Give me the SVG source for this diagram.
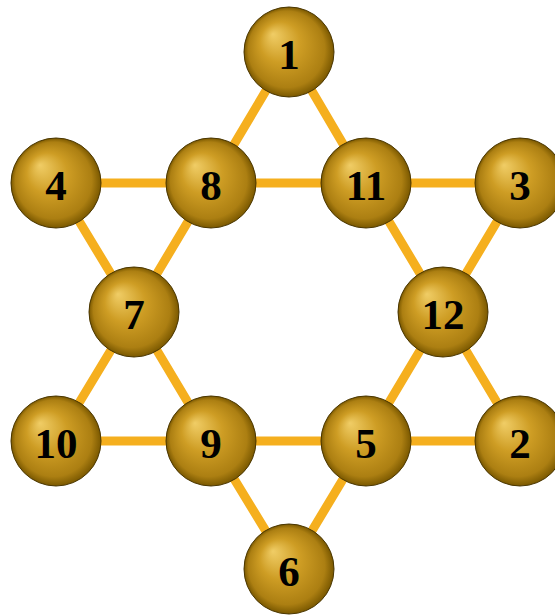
<svg xmlns="http://www.w3.org/2000/svg" width="555" height="616" viewBox="0 0 555 616">
<defs>
<radialGradient id="ball" cx="0.5" cy="0.5" r="0.5" fx="0.32" fy="0.3">
<stop offset="0" stop-color="#F0CD66"/>
<stop offset="0.45" stop-color="#CE9D24"/>
<stop offset="0.85" stop-color="#AC7F12"/>
<stop offset="1" stop-color="#7A5800"/>
</radialGradient>
<style>
.e{stroke:#F5AF1E;stroke-width:9;stroke-linecap:round}
.b{fill:url(#ball);stroke:#4A3600;stroke-width:1}
.t{font-family:"Liberation Serif",serif;font-weight:bold;font-size:43px;fill:#000;text-anchor:middle;dominant-baseline:central}
</style>
</defs>
<rect width="555" height="616" fill="#fff"/>
<g id="edges">
<line class="e" x1="289" y1="52" x2="211" y2="183"/>
<line class="e" x1="289" y1="52" x2="366" y2="183"/>
<line class="e" x1="56" y1="183" x2="520" y2="183"/>
<line class="e" x1="56" y1="183" x2="134" y2="312"/>
<line class="e" x1="211" y1="183" x2="134" y2="312"/>
<line class="e" x1="366" y1="183" x2="443" y2="312"/>
<line class="e" x1="520" y1="183" x2="443" y2="312"/>
<line class="e" x1="134" y1="312" x2="56" y2="441"/>
<line class="e" x1="134" y1="312" x2="211" y2="441"/>
<line class="e" x1="443" y1="312" x2="366" y2="441"/>
<line class="e" x1="443" y1="312" x2="520" y2="441"/>
<line class="e" x1="56" y1="441" x2="520" y2="441"/>
<line class="e" x1="211" y1="441" x2="289" y2="569"/>
<line class="e" x1="366" y1="441" x2="289" y2="569"/>
</g>
<g id="n1"><circle class="b" cx="289" cy="52" r="45"/><text class="t" x="289" y="54">1</text></g>
<g id="n4"><circle class="b" cx="56" cy="183" r="45"/><text class="t" x="56" y="185">4</text></g>
<g id="n8"><circle class="b" cx="211" cy="183" r="45"/><text class="t" x="211" y="185">8</text></g>
<g id="n11"><circle class="b" cx="366" cy="183" r="45"/><text class="t" x="366" y="185">11</text></g>
<g id="n3"><circle class="b" cx="520" cy="183" r="45"/><text class="t" x="520" y="185">3</text></g>
<g id="n7"><circle class="b" cx="134" cy="312" r="45"/><text class="t" x="134" y="314">7</text></g>
<g id="n12"><circle class="b" cx="443" cy="312" r="45"/><text class="t" x="443" y="314">12</text></g>
<g id="n10"><circle class="b" cx="56" cy="441" r="45"/><text class="t" x="56" y="443">10</text></g>
<g id="n9"><circle class="b" cx="211" cy="441" r="45"/><text class="t" x="211" y="443">9</text></g>
<g id="n5"><circle class="b" cx="366" cy="441" r="45"/><text class="t" x="366" y="443">5</text></g>
<g id="n2"><circle class="b" cx="520" cy="441" r="45"/><text class="t" x="520" y="443">2</text></g>
<g id="n6"><circle class="b" cx="289" cy="569" r="45"/><text class="t" x="289" y="571">6</text></g>
</svg>
